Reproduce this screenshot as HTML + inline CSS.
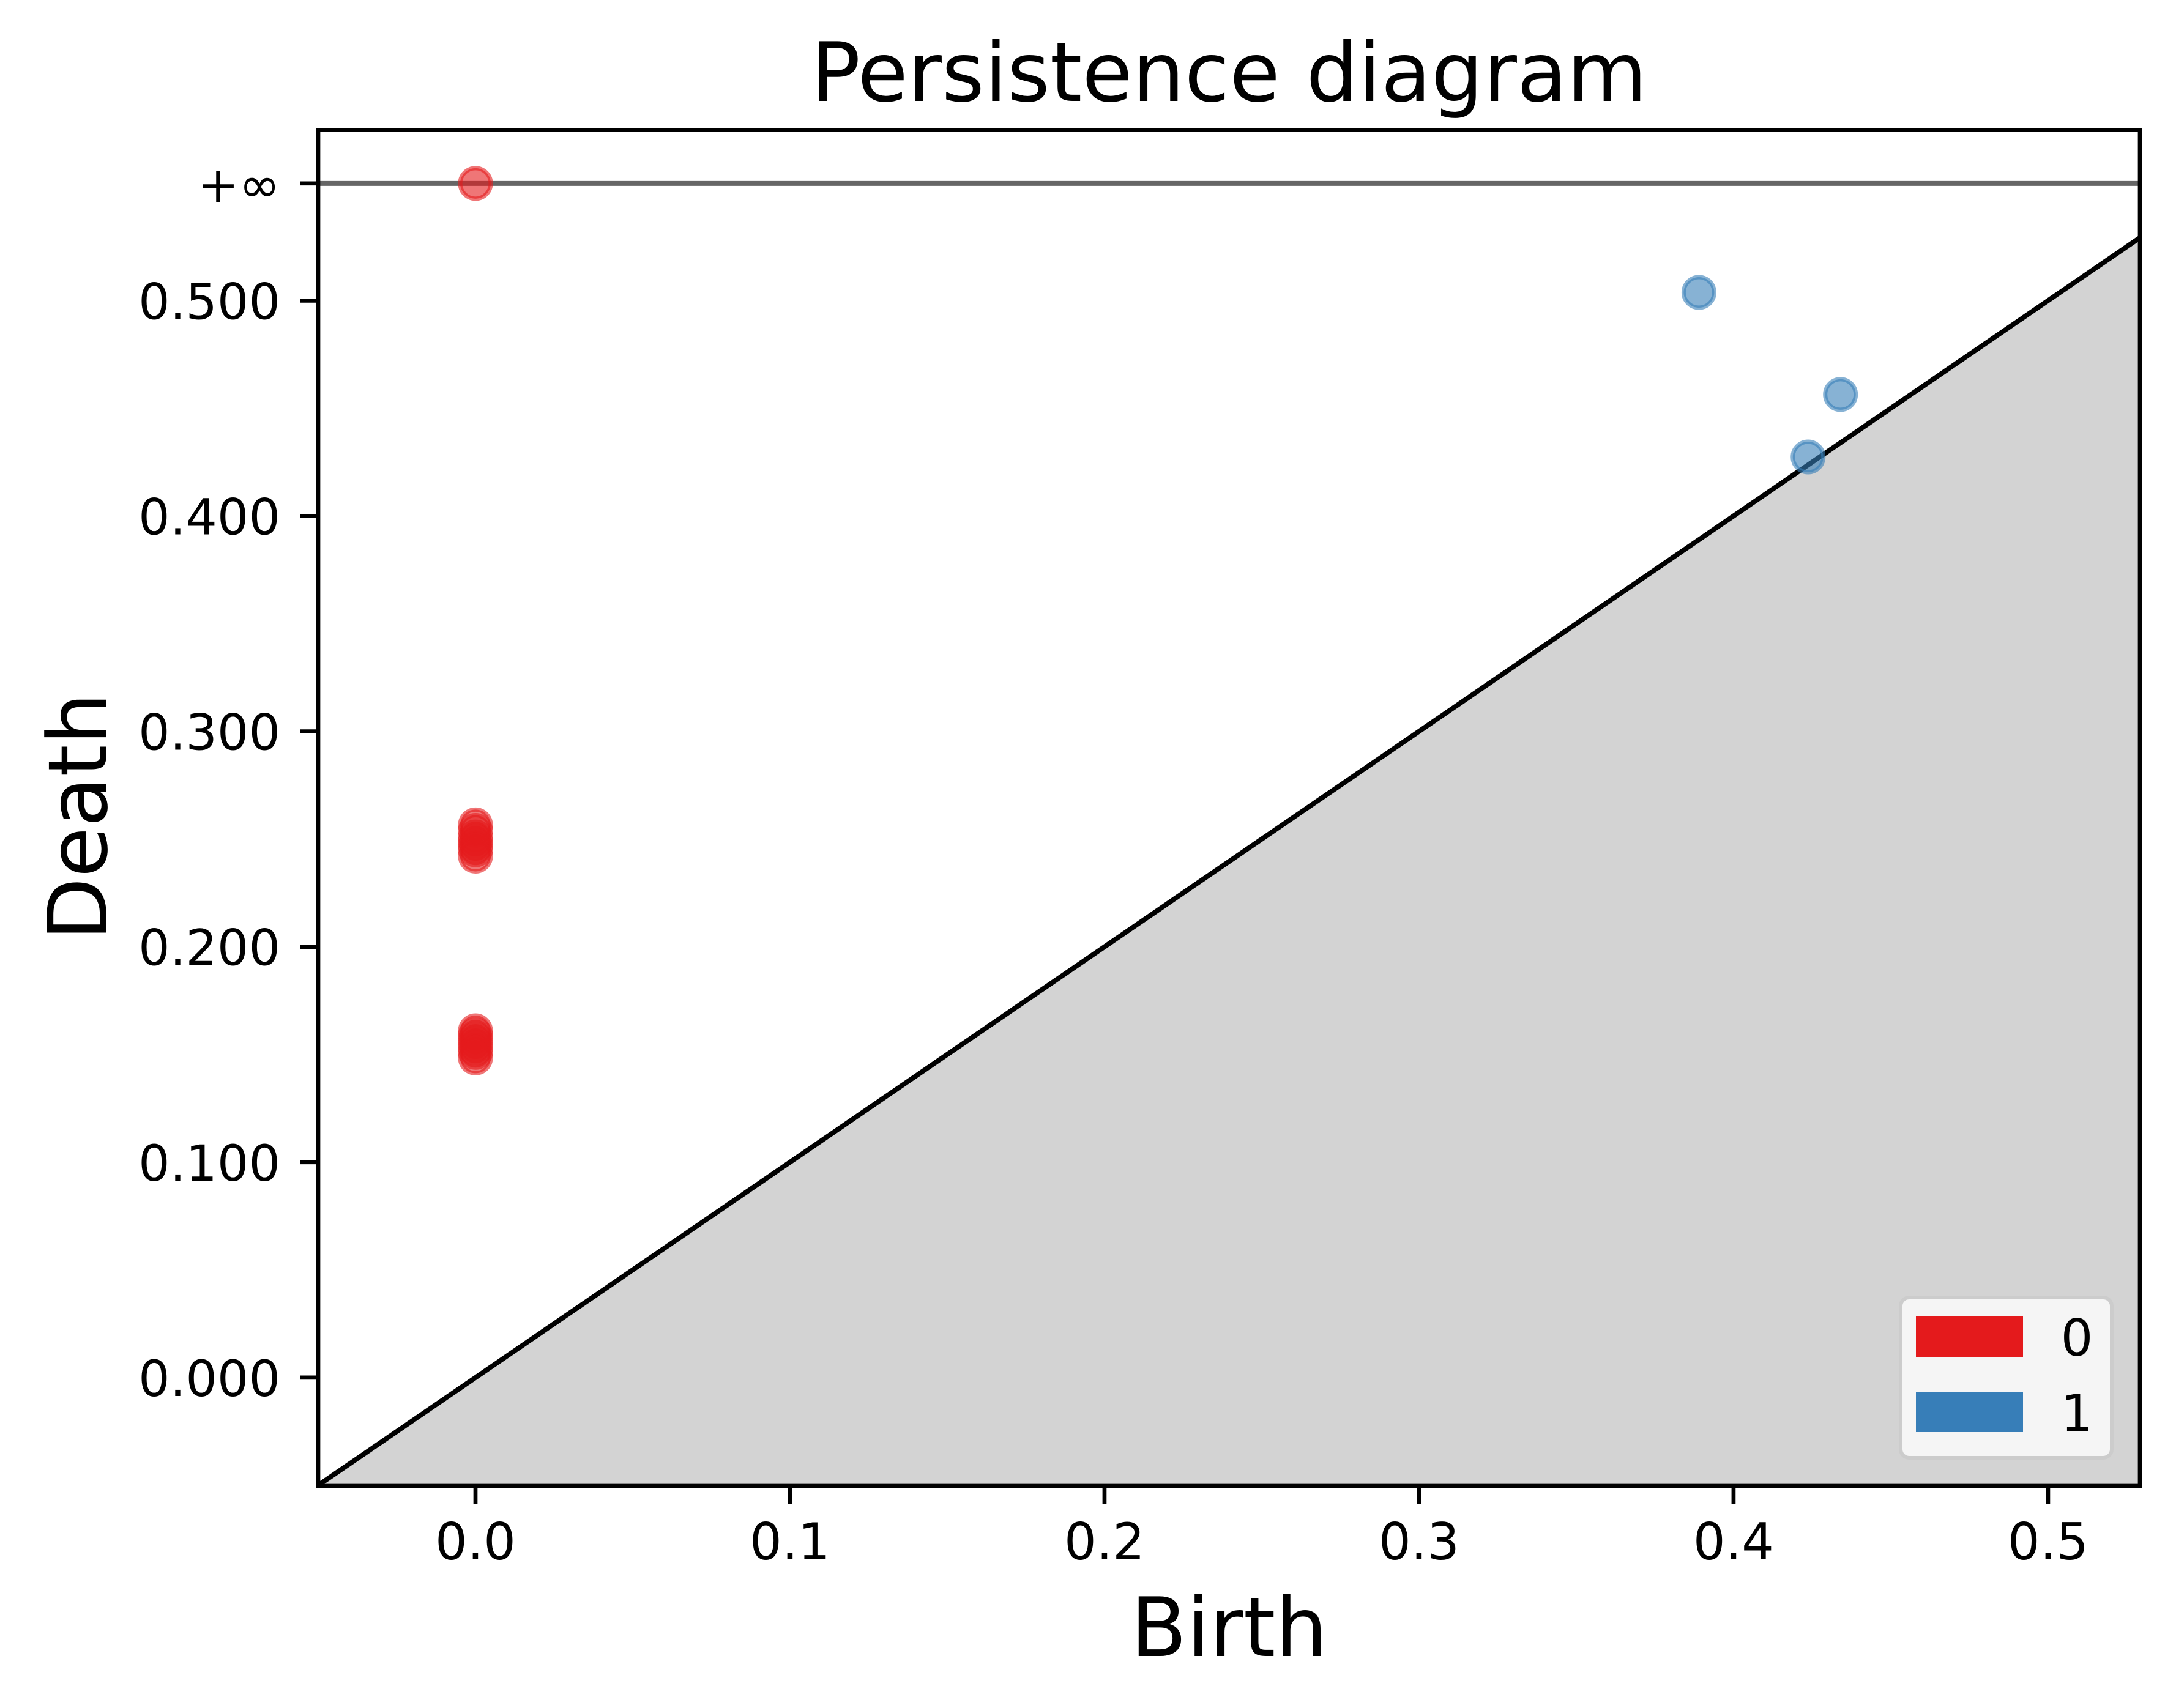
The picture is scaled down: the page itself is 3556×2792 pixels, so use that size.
<!DOCTYPE html>
<html><head><meta charset="utf-8"><style>
html,body{margin:0;padding:0;background:#fff;}
svg{display:block;font-family:"DejaVu Sans","Liberation Sans",sans-serif;}
</style></head><body>
<svg id="chart" width="3556" height="2792" viewBox="0 0 3556 2792" xmlns="http://www.w3.org/2000/svg">
<rect width="3556" height="2792" fill="#fff"/>
<g id="plot"></g>
</svg>
<script>
const xTicks = [0.0, 0.1, 0.2, 0.3, 0.4, 0.5];
const xTickLabels = ["0.0", "0.1", "0.2", "0.3", "0.4", "0.5"];
const yTicks = [0.0, 0.1, 0.2, 0.3, 0.4, 0.5];
const yTickLabels = ["0.000", "0.100", "0.200", "0.300", "0.400", "0.500"];
const infValue = 0.5544;
const dim0Birth = [0, 0, 0, 0, 0, 0, 0, 0, 0, 0, 0, 0, 0, 0, 0];
const dim0Death = [0.2566, 0.254, 0.251, 0.249, 0.247, 0.245, 0.2421, 0.161, 0.159, 0.157, 0.155, 0.153, 0.151, 0.1484, 0.5544];
const dim1Birth = [0.389, 0.434, 0.4237];
const dim1Death = [0.5038, 0.4564, 0.4274];
const xDomain = [-0.05, 0.5292];
const yDomain = [-0.0503, 0.5792];

const L = 520, R = 3497, T = 212.5, B = 2429;
const NS = "http://www.w3.org/2000/svg";
function X(v){ return L + (v - xDomain[0]) / (xDomain[1] - xDomain[0]) * (R - L); }
function Y(v){ return B - (v - yDomain[0]) / (yDomain[1] - yDomain[0]) * (B - T); }
const g = document.getElementById('plot');
function mk(tag, attrs, text){
  const e = document.createElementNS(NS, tag);
  for (const k in attrs) e.setAttribute(k, attrs[k]);
  if (text !== undefined) e.textContent = text;
  g.appendChild(e);
  return e;
}

// shaded region below diagonal
const d0 = Math.max(xDomain[0], yDomain[0]);
let e = mk('polygon', {points: `${X(xDomain[0])},${Y(xDomain[0])} ${X(xDomain[1])},${Y(xDomain[1])} ${X(xDomain[1])},${B} ${X(xDomain[0])},${B}`, fill: '#d3d3d3'});


e = mk('line', {x1: X(xDomain[0]), y1: Y(xDomain[0]), x2: X(xDomain[1]), y2: Y(xDomain[1]), stroke: '#000', 'stroke-width': 8});



// infinity line
e = mk('line', {x1: L, y1: Y(infValue), x2: R, y2: Y(infValue), stroke: 'rgba(0,0,0,0.6)', 'stroke-width': 8});



// points
for (let i = 0; i < dim0Birth.length; i++) {
  e = mk('circle', {cx: X(dim0Birth[i]), cy: Y(dim0Death[i]), r: 25, fill: 'rgba(228,26,28,0.6)', stroke: 'rgba(228,26,28,0.6)', 'stroke-width': 7});
  
  
}
for (let i = 0; i < dim1Birth.length; i++) {
  e = mk('circle', {cx: X(dim1Birth[i]), cy: Y(dim1Death[i]), r: 25, fill: 'rgba(55,126,184,0.6)', stroke: 'rgba(55,126,184,0.6)', 'stroke-width': 7});
  
  
}

// axes frame
e = mk('rect', {x: L, y: T, width: R - L, height: B - T, fill: 'none', stroke: '#000', 'stroke-width': 6.7});



// x ticks
xTicks.forEach((v, i) => {
  let t = mk('line', {x1: X(v), y1: B, x2: X(v), y2: B + 29, stroke: '#000', 'stroke-width': 6.7});
  
  
  t = mk('text', {x: X(v), y: B + 120, 'font-size': 83, 'text-anchor': 'middle'}, xTickLabels[i]);
  
  
});
// y ticks
yTicks.forEach((v, i) => {
  let t = mk('line', {x1: L - 29, y1: Y(v), x2: L, y2: Y(v), stroke: '#000', 'stroke-width': 6.7});
  
  
  t = mk('text', {x: L - 62, y: Y(v) + 30, 'font-size': 81, 'text-anchor': 'end'}, yTickLabels[i]);
  
  
});
e = mk('line', {x1: L - 29, y1: Y(infValue), x2: L, y2: Y(infValue), stroke: '#000', 'stroke-width': 6.7});


e = mk('text', {x: L - 62, y: Y(infValue) + 30, 'font-size': 81, 'text-anchor': 'end'}, '+\u221e');



// titles
e = mk('text', {x: (L + R) / 2, y: 165, 'font-size': 134, 'text-anchor': 'middle'}, 'Persistence diagram');


e = mk('text', {x: (L + R) / 2, y: 2707, 'font-size': 134, 'text-anchor': 'middle'}, 'Birth');


e = mk('text', {x: 174, y: 1335, 'font-size': 134, 'text-anchor': 'middle', transform: 'rotate(-90 174 1335)'}, 'Death');



// legend
e = mk('rect', {x: 3106, y: 2121, width: 345, height: 262, rx: 14, fill: '#f5f5f5', stroke: '#cccccc', 'stroke-width': 6});


e = mk('rect', {x: 3131, y: 2152, width: 175, height: 67, fill: '#e41a1c'});


e = mk('text', {x: 3394, y: 2216, 'font-size': 83, 'text-anchor': 'middle'}, '0');


e = mk('rect', {x: 3131, y: 2275, width: 175, height: 66, fill: '#377eb8'});


e = mk('text', {x: 3394, y: 2339, 'font-size': 83, 'text-anchor': 'middle'}, '1');


</script>
</body></html>
